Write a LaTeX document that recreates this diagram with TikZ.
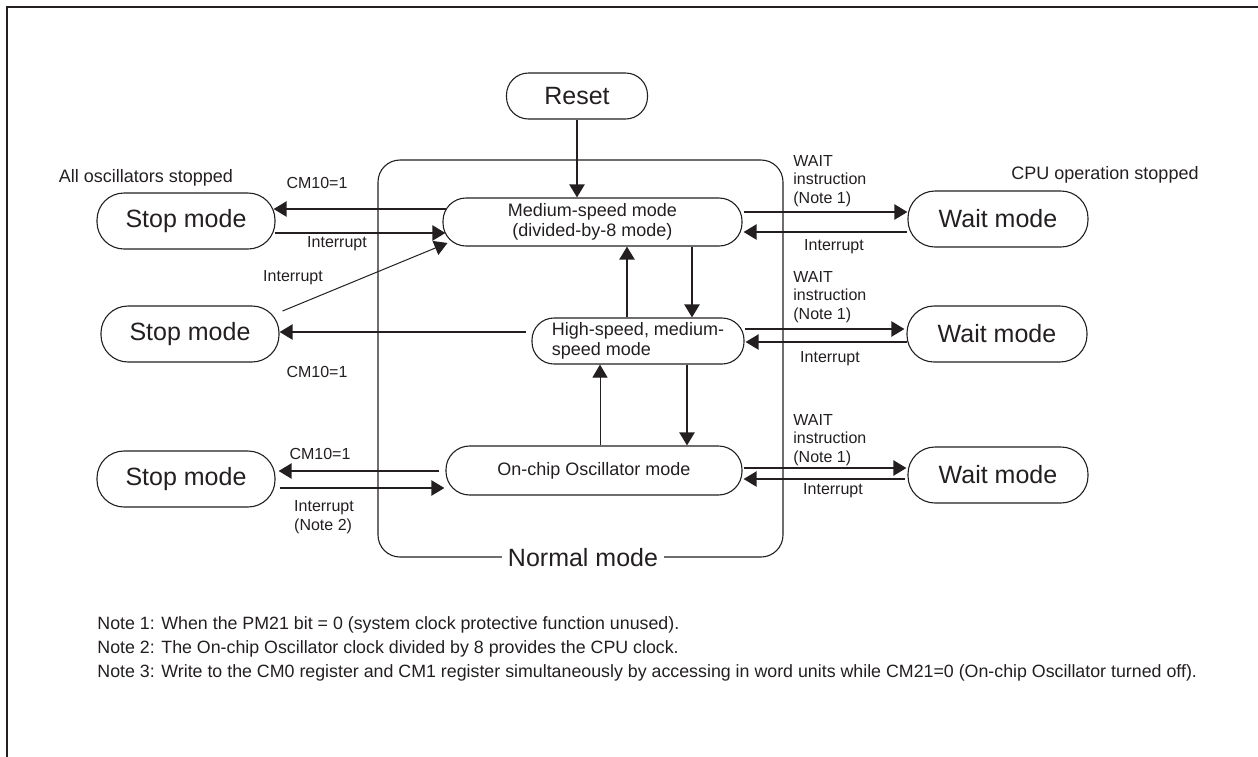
\documentclass[tikz,border=0pt]{standalone}
\usepackage{fontspec}
\setmainfont{Liberation Sans}
\usetikzlibrary{arrows.meta,calc}
\definecolor{ink}{HTML}{231F20}
\begin{document}
\begin{tikzpicture}[x=0.5pt,y=-0.5pt,
  bigmode/.style={draw=ink, line width=0.55pt, rounded corners=13.5pt, minimum width=89pt, minimum height=28pt, inner sep=0pt, text=ink, font=\fontsize{12.5}{15}\selectfont},
  normmode/.style={draw=ink, line width=0.55pt, inner sep=0pt, text=ink, font=\fontsize{9}{9.75}\selectfont},
  small/.style={inner sep=0pt, text=ink, font=\fontsize{8}{9.25}\selectfont},
  mid/.style={inner sep=0pt, text=ink, font=\fontsize{9}{10}\selectfont},
  notetext/.style={inner sep=0pt, text=ink, anchor=west, font=\fontsize{8.9}{10.5}\selectfont},
  arr/.style={draw=ink, line width=1.1pt, -{Triangle[length=6.5pt,width=7.5pt]}},
  thinarr/.style={draw=ink, line width=0.5pt, -{Triangle[length=6.5pt,width=7.5pt]}}
]
\useasboundingbox (0,0) rectangle (1258,756);
% outer frame
\draw[ink, line width=1pt] (7,757) -- (7,7) -- (1259,7);

% normal mode frame
\node[draw=ink, line width=0.55pt, rounded corners=11pt, minimum width=202.5pt, minimum height=198.5pt, inner sep=0pt] (normal) at (580.5,358.5) {};
\node[fill=white, inner xsep=3pt, inner ysep=1pt, text=ink, font=\fontsize{12.5}{15}\selectfont] (normlbl) at ($(normal.south)+(2.5,0)$) {Normal mode};

% nodes
\node[bigmode, minimum width=70.5pt, minimum height=23pt, rounded corners=11pt] (reset) at (577,96) {Reset};
\node[normmode, minimum width=149.5pt, minimum height=24pt, rounded corners=11.5pt, align=center] (med) at (592.5,222) {Medium-speed mode\\(divided-by-8 mode)};
\node[normmode, minimum width=106pt, minimum height=23pt, rounded corners=11pt, align=left] (high) at (638,341) {High-speed, medium-\\speed mode};
\node[normmode, minimum width=148pt, minimum height=24.5pt, rounded corners=11.8pt] (onchip) at (594,470.5) {On-chip Oscillator mode};

\node[bigmode] (stop1) at (186,221) {Stop mode};
\node[bigmode] (stop2) at (190,334) {Stop mode};
\node[bigmode] (stop3) at (186,479) {Stop mode};
\node[bigmode, minimum width=90pt] (wait1) at (998,219) {Wait mode};
\node[bigmode, minimum width=90pt] (wait2) at (997,334) {Wait mode};
\node[bigmode, minimum width=90pt] (wait3) at (998,475) {Wait mode};

% left connectors
\draw[arr] ($(med.west)+(4,-13)$) -- ($(stop1.east)+(-2,-12)$);
\draw[arr] ($(stop1.east)+(-1,12)$) -- ($(med.west)+(3,11)$);
\draw[thinarr] ($(stop2.east)+(3,-23)$) -- ($(med.west)+(5,21)$);
\draw[arr] ($(high.west)+(-5,-9)$) -- ($(stop2.east)+(0,-2)$);
\draw[arr] ($(onchip.west)+(-6,0.5)$) -- ($(stop3.east)+(3,-8)$);
\draw[arr] ($(stop3.east)+(4,9)$) -- ($(onchip.west)+(-1,17.5)$);

% right connectors
\draw[arr] ($(med.east)+(1,-10)$) -- ($(wait1.west)+(0,-7)$);
\draw[arr] ($(wait1.west)+(0,13)$) -- ($(med.east)+(1,10)$);
\draw[arr] ($(high.east)+(0,-12)$) -- ($(wait2.west)+(-2,-5)$);
\draw[arr] ($(wait2.west)+(1,8)$) -- ($(high.east)+(1,1)$);
\draw[arr] ($(onchip.east)+(1,-2.5)$) -- ($(wait3.west)+(-1,-7)$);
\draw[arr] ($(wait3.west)+(-2,4)$) -- ($(onchip.east)+(1,8.5)$);

% vertical connectors
\draw[arr] (reset.south) -- (reset.south |- med.north);
\coordinate (h1) at ($(high.north)+(-11,0)$);
\draw[arr] (h1) -- (h1 |- med.south);
\coordinate (m1) at ($(med.south)+(99.5,0)$);
\draw[arr] (m1) -- (m1 |- high.north);
\coordinate (o1) at ($(onchip.north)+(6,0)$);
\draw[thinarr] (o1) -- (o1 |- high.south);
\coordinate (h2) at ($(high.south)+(49,0)$);
\draw[arr] (h2) -- (h2 |- onchip.north);

% labels
\node[mid] (t1) at (146,178) {All oscillators stopped};
\node[mid] (t2) at (1105,175) {CPU operation stopped};
\node[small] (l1) at (317,183) {CM10=1};
\node[small] (l2) at (337,244) {Interrupt};
\node[small] (l3) at (293,278) {Interrupt};
\node[small] (l4) at (317,372) {CM10=1};
\node[small] (l5) at (320,454) {CM10=1};
\node[small, align=left] (l6) at (324,517) {Interrupt\\(Note 2)};
\node[small, align=left, anchor=west] (r1) at (793,181) {WAIT\\instruction\\(Note 1)};
\node[small] (r2) at (834,247) {Interrupt};
\node[small, align=left, anchor=west] (r3) at (793,297) {WAIT\\instruction\\(Note 1)};
\node[small] (r4) at (830,359) {Interrupt};
\node[small, align=left, anchor=west] (r5) at (793,440) {WAIT\\instruction\\(Note 1)};
\node[small] (r6) at (833,491) {Interrupt};

% notes
\node[notetext] (n1) at (97,625) {Note 1: When the PM21 bit = 0 (system clock protective function unused).};
\node[notetext] (n2) at (97,649) {Note 2: The On-chip Oscillator clock divided by 8 provides the CPU clock.};
\node[notetext] (n3) at (97,673) {Note 3: Write to the CM0 register and CM1 register simultaneously by accessing in word units while CM21=0 (On-chip Oscillator turned off).};
\end{tikzpicture}
\end{document}
